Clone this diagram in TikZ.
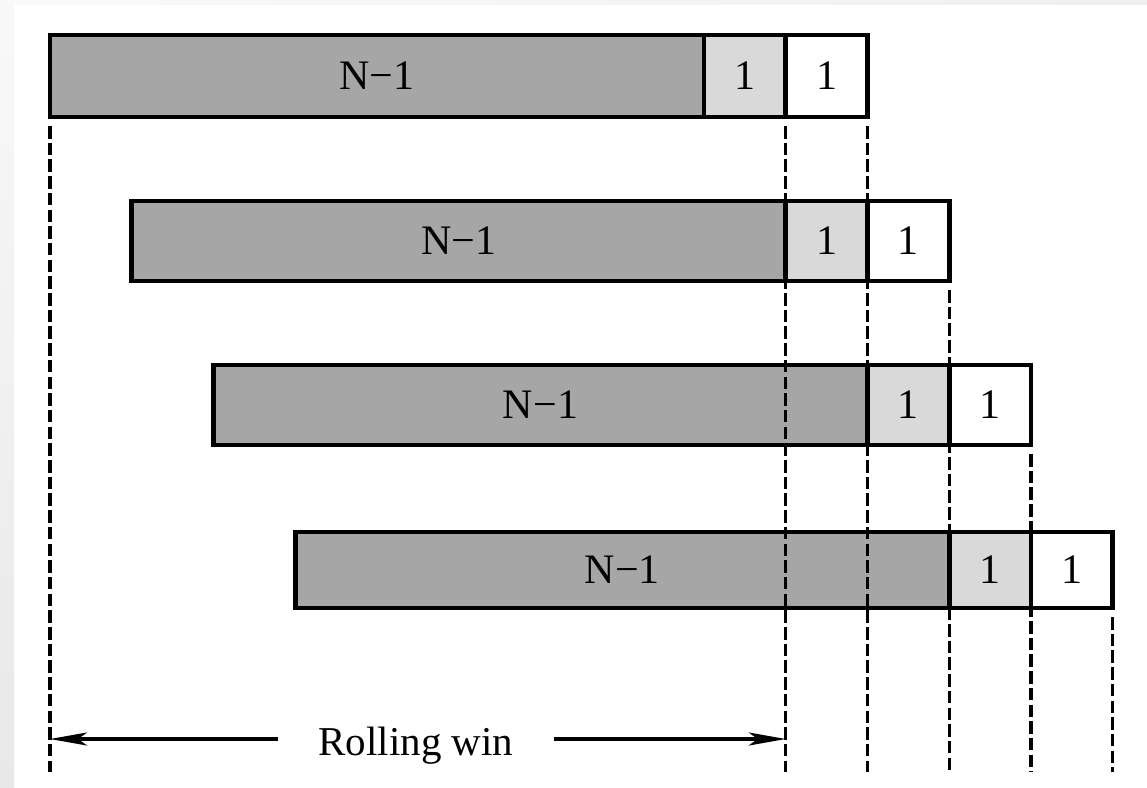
\documentclass[tikz,border=0pt]{standalone}
\usepackage{fontspec}
\setmainfont{Liberation Serif}
\usetikzlibrary{arrows.meta}

\begin{document}
\begin{tikzpicture}[x=1pt, y=-1pt,
  cell/.style={draw=black, line width=4.6pt, inner sep=0pt, outer sep=0pt,
    anchor=west, font=\fontsize{42}{48}\selectfont},
  bigcell/.style={cell, fill=gray!70, minimum width=654pt},
  lightcell/.style={cell, fill=gray!30, minimum width=81.75pt},
  whitecell/.style={cell, fill=white, minimum width=81.75pt},
  guide/.style={draw=black, line width=3.4pt, dash pattern=on 12.5pt off 4.2pt,
    shorten <=9pt},
  span/.style={draw=black, line width=3.4pt,
    -{Stealth[length=37pt, width=13pt, inset=9pt]}},
  caption/.style={anchor=base, inner xsep=40pt, inner ysep=0pt,
    font=\fontsize{41}{48}\selectfont}]

\useasboundingbox (0,0) rectangle (1147,787);

% soft page edges
\shade[left color=gray!4, right color=gray!12, draw=none] (0,0) rectangle (1147,4.5);
\shade[top color=gray!5, bottom color=gray!18, draw=none] (0,0) rectangle (14,787);

% four shifted windows: N-1 samples, then two single samples
\foreach \r/\y/\h in {1/76/82, 2/241/80, 3/405/80, 4/570/76} {
  \pgfmathsetmacro\xo{50+(\r-1)*81.75}
  \node[bigcell, minimum height=\h pt] (d\r) at (\xo,\y) {N−1};
  \node[lightcell, minimum height=\h pt] (l\r) at (d\r.east) {1};
  \node[whitecell, minimum height=\h pt] (w\r) at (l\r.east) {1};
}

% baselines for the guides and the window arrow
\coordinate (base) at (0,772);
\coordinate (ay) at (0,739);

% vertical guides
\draw[guide] (d1.south west) -- (d1.south west |- base);
\draw[guide] (w1.south west) -- (w1.south west |- base);
\draw[guide] (w1.south east) -- (w1.south east |- base);
\draw[guide] (w2.south east) -- (w2.south east |- base);
\draw[guide] (w3.south east) -- (w3.south east |- base);
\draw[guide] (w4.south east) -- (w4.south east |- base);

% window span
\node[caption] (rw) at (416,755) {Rolling win};
\draw[span] (rw.west |- ay) -- (d1.south west |- ay);
\draw[span] (rw.east |- ay) -- (w1.south west |- ay);

\end{tikzpicture}
\end{document}
